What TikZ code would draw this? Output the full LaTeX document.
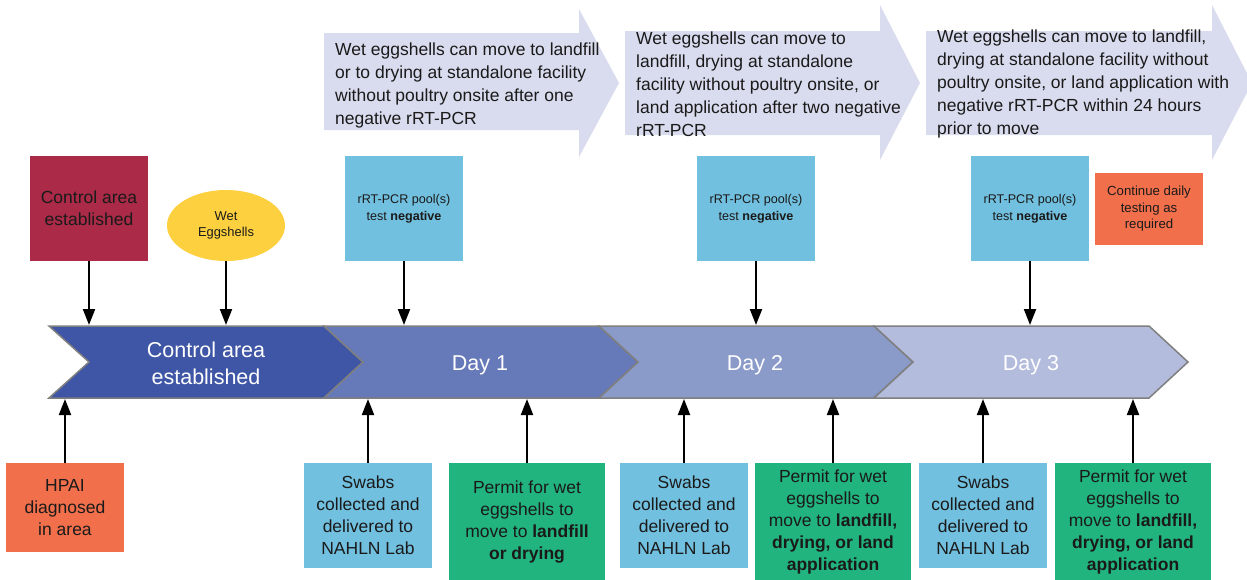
\documentclass[tikz,border=0pt]{standalone}
\usepackage{fontspec}
\setmainfont{Liberation Sans}
\usetikzlibrary{arrows.meta,shapes.geometric}
\definecolor{redbox}{HTML}{AA2A47}
\definecolor{yellowbox}{HTML}{FDD03F}
\definecolor{bluebox}{HTML}{72C0DF}
\definecolor{orangebox}{HTML}{F26F4C}
\definecolor{greenbox}{HTML}{21B47E}
\definecolor{lav}{HTML}{D9DCEE}
\definecolor{chA}{HTML}{3F56A6}
\definecolor{chB}{HTML}{6679B8}
\definecolor{chC}{HTML}{8A9BC9}
\definecolor{chD}{HTML}{B3BCDC}
\definecolor{chline}{HTML}{7F7F7F}
\definecolor{txt}{HTML}{1A1A1A}
\begin{document}
\begin{tikzpicture}[x=1pt,y=-1pt,
  box/.style={draw=none, inner sep=0pt, align=center, text=txt, font=\fontsize{17.5}{22}\selectfont},
  smallbox/.style={box, font=\fontsize{12.6}{17}\selectfont},
  chev/.style={draw=chline, line width=1.5pt, line join=miter},
  chevtext/.style={inner sep=0pt, align=center, text=white, font=\fontsize{21.5}{27}\selectfont},
  bigarrow/.style={fill=lav, draw=none},
  arrowtext/.style={inner sep=0pt, anchor=west, align=left, text=txt, font=\fontsize{17.5}{23}\selectfont},
  conn/.style={line width=2pt, draw=black, -{Triangle[width=12pt,length=16pt]}}]
\useasboundingbox (0,0) rectangle (1247,579);

% top big arrows
\path[bigarrow] (324,33) -- (579,33) -- (579,9) -- (619,83) -- (579,157) -- (579,130) -- (324,130) -- cycle;
\path[bigarrow] (625,31) -- (880,31) -- (880,5) -- (920,83) -- (880,160) -- (880,135) -- (625,135) -- cycle;
\path[bigarrow] (926,31) -- (1212,31) -- (1212,5) -- (1252,83) -- (1212,160) -- (1212,135) -- (926,135) -- cycle;
\node[arrowtext] (a1) at (335,85) {Wet eggshells can move to landfill\\or to drying at standalone facility\\without poultry onsite after one\\negative rRT-PCR};
\node[arrowtext] (a2) at (636,84) {Wet eggshells can move to\\landfill, drying at standalone\\facility without poultry onsite, or\\land application after two negative\\rRT-PCR};
\node[arrowtext] (a3) at (937,84) {Wet eggshells can move to landfill,\\drying at standalone facility without\\poultry onsite, or land application with\\negative rRT-PCR within 24 hours\\prior to move};

% chevrons
\draw[chev, fill=chA] (49,326) -- (324,326) -- (363,362) -- (324,398) -- (49,398) -- (89,362) -- cycle;
\draw[chev, fill=chB] (324,326) -- (599,326) -- (638,362) -- (599,398) -- (324,398) -- (363,362) -- cycle;
\draw[chev, fill=chC] (599,326) -- (874,326) -- (913,362) -- (874,398) -- (599,398) -- (638,362) -- cycle;
\draw[chev, fill=chD] (874,326) -- (1149,326) -- (1188,362) -- (1149,398) -- (874,398) -- (913,362) -- cycle;
\coordinate (bartop) at (0,325);
\coordinate (barbot) at (0,399);
\node[chevtext] (c1) at (206,363) {Control area\\established};
\node[chevtext] (c2) at (480,365) {Day 1};
\node[chevtext] (c3) at (755,365) {Day 2};
\node[chevtext] (c4) at (1031,365) {Day 3};

% top boxes
\node[box, fill=redbox, minimum width=118pt, minimum height=105pt] (ctrl) at (89,208.5) {Control area\\established};
\node[ellipse, fill=yellowbox, inner sep=0pt, minimum width=118pt, minimum height=71pt, align=center, text=txt, font=\fontsize{12.9}{15.5}\selectfont] (wet) at (226,225.5) {Wet\\Eggshells};
\node[smallbox, fill=bluebox, minimum width=118pt, minimum height=105pt] (t1) at (404,208.5) {rRT-PCR pool(s)\\test \textbf{negative}};
\node[smallbox, fill=bluebox, minimum width=118pt, minimum height=105pt] (t2) at (756,208.5) {rRT-PCR pool(s)\\test \textbf{negative}};
\node[smallbox, fill=bluebox, minimum width=118pt, minimum height=105pt] (t3) at (1030,208.5) {rRT-PCR pool(s)\\test \textbf{negative}};
\node[box, fill=orangebox, minimum width=108pt, minimum height=72pt, font=\fontsize{13.2}{16.5}\selectfont] (cont) at (1149,209) {Continue daily\\testing as\\required};

% bottom boxes
\node[box, fill=orangebox, minimum width=118pt, minimum height=89pt] (hpai) at (65,507.5) {HPAI\\diagnosed\\in area};
\node[box, fill=bluebox, minimum width=128pt, minimum height=105pt] (s1) at (368,515.5) {Swabs\\collected and\\delivered to\\NAHLN Lab};
\node[box, fill=greenbox, minimum width=156pt, minimum height=118pt] (p1) at (527,522) {Permit for wet\\eggshells to\\move to \textbf{landfill}\\\textbf{or drying}};
\node[box, fill=bluebox, minimum width=128pt, minimum height=105pt] (s2) at (684,515.5) {Swabs\\collected and\\delivered to\\NAHLN Lab};
\node[box, fill=greenbox, minimum width=156pt, minimum height=118pt] (p2) at (833,522) {Permit for wet\\eggshells to\\move to \textbf{landfill,}\\\textbf{drying, or land}\\\textbf{application}};
\node[box, fill=bluebox, minimum width=128pt, minimum height=105pt] (s3) at (983,515.5) {Swabs\\collected and\\delivered to\\NAHLN Lab};
\node[box, fill=greenbox, minimum width=156pt, minimum height=118pt] (p3) at (1133,522) {Permit for wet\\eggshells to\\move to \textbf{landfill,}\\\textbf{drying, or land}\\\textbf{application}};

% connectors
\draw[conn] (ctrl.south) -- (ctrl.south |- bartop);
\draw[conn] (wet.south) -- (wet.south |- bartop);
\draw[conn] (t1.south) -- (t1.south |- bartop);
\draw[conn] (t2.south) -- (t2.south |- bartop);
\draw[conn] (t3.south) -- (t3.south |- bartop);
\draw[conn] (hpai.north) -- (hpai.north |- barbot);
\draw[conn] (s1.north) -- (s1.north |- barbot);
\draw[conn] (p1.north) -- (p1.north |- barbot);
\draw[conn] (s2.north) -- (s2.north |- barbot);
\draw[conn] (p2.north) -- (p2.north |- barbot);
\draw[conn] (s3.north) -- (s3.north |- barbot);
\draw[conn] (p3.north) -- (p3.north |- barbot);
\end{tikzpicture}
\end{document}
